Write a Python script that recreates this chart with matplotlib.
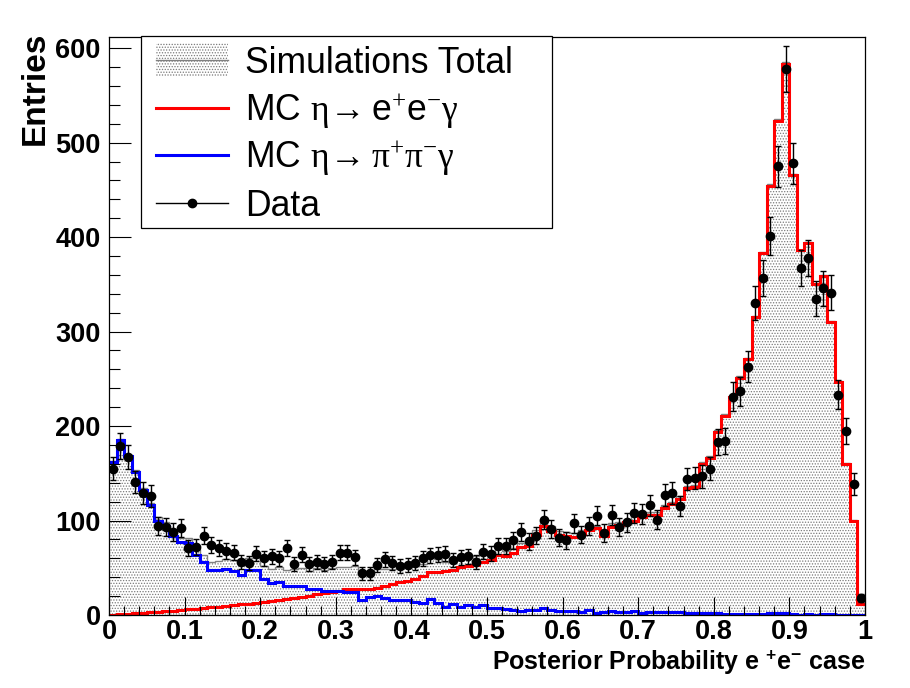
import numpy as np
import matplotlib
matplotlib.use('Agg')
import matplotlib.pyplot as plt
from matplotlib.patches import Rectangle
from matplotlib.lines import Line2D

plt.rcParams['font.family'] = ['Liberation Sans', 'DejaVu Sans']
plt.rcParams['mathtext.fontset'] = 'custom'
plt.rcParams['mathtext.rm'] = 'Liberation Serif'
plt.rcParams['mathtext.it'] = 'Liberation Serif:italic'
plt.rcParams['mathtext.bf'] = 'Liberation Sans:bold'
plt.rcParams['mathtext.sf'] = 'Liberation Sans'
plt.rcParams['hatch.color'] = '#7a7a7a'
plt.rcParams['hatch.linewidth'] = 0.6

# 100 bins of width 0.01 on [0, 1]
edges = np.linspace(0, 1, 101)

data = [155, 179, 167, 141, 129, 126, 94, 93, 88, 92,
        71, 72, 84, 74, 71, 68, 66, 56, 55, 65,
        60, 62, 60, 71, 54, 64, 54, 56, 54, 56,
        66, 66, 61, 44, 44, 53, 59, 55, 52, 53,
        55, 60, 63, 64, 65, 58, 61, 62, 56, 67,
        65, 73, 73, 79, 88, 78, 84, 101, 91, 82,
        79, 97, 85, 94, 105, 87, 106, 93, 98, 108,
        107, 116, 101, 127, 129, 115, 144, 145, 147, 155,
        183, 184, 231, 237, 263, 330, 357, 401, 475, 578,
        478, 367, 378, 335, 346, 341, 233, 195, 139, 18]

mc_ee = [0.5, 1, 1.5, 2, 2.5, 3, 3.5, 4, 4.5, 5,
         6, 6.5, 7, 8, 9, 10, 11, 11.5, 12, 12.5,
         13.5, 14.5, 15.5, 16.5, 17.5, 19, 20, 22, 23, 24.5,
         25.5, 27, 28, 28, 28, 29, 31, 33, 35, 36,
         38, 41, 46, 46, 47, 48, 51, 52, 53, 56,
         58, 64, 62, 66, 72, 73, 85, 94, 89, 85,
         84, 83, 86, 90, 92, 84, 93, 95, 98, 100,
         104, 106, 106, 113, 117, 123, 134, 136, 160, 166,
         194, 211, 231, 251, 271, 315, 383, 454, 523, 583,
         466, 386, 394, 350, 359, 310, 247, 160, 100, 12]

mc_pipi = [162, 185, 168, 151, 132, 116, 100, 94, 84, 77,
           76, 63, 56, 48, 48, 49, 47, 42, 48, 48,
           38, 34, 35, 31, 31, 31, 27, 28, 25, 25,
           25, 24, 24, 16, 19, 20, 18, 16, 16, 16,
           14, 13, 17, 13, 9, 12, 9, 11, 9, 11,
           7, 7, 6, 5, 4, 5, 5, 7, 5, 4,
           4, 4, 3.5, 5, 2, 3, 4.5, 3, 3, 4.5,
           2.5, 3, 3, 3, 3, 3, 2.5, 2, 2, 2,
           2, 1.5, 1.5, 1.5, 1.5, 1.5, 1, 2, 2, 2.5,
           1, 0.5, 1, 0.5, 1, 1, 0.5, 0.5, 0.5, 0.5]

legend_labels = ['Simulations Total',
                 r'MC $\mathrm{\eta}\!\rightarrow\!\!$ e$^{+}$e$^{-}\mathrm{\gamma}$',
                 r'MC $\mathrm{\eta}\!\rightarrow\!\!$ $\mathrm{\pi}^{+}\mathrm{\pi}^{-}\mathrm{\gamma}$',
                 'Data']

data = np.array(data, dtype=float)
mc_ee = np.array(mc_ee, dtype=float)
mc_pipi = np.array(mc_pipi, dtype=float)
total = mc_ee + mc_pipi
centers = 0.5 * (edges[:-1] + edges[1:])

W, H = 910, 688
fig = plt.figure(figsize=(W / 100, H / 100), dpi=100)
ax = fig.add_axes([0.1198, 0.1061, 0.8307, 0.8401])

ax.stairs(total, edges, fill=True, facecolor='white', edgecolor='#7a7a7a',
          hatch='......', linewidth=0)
ax.stairs(total, edges, color='#808080', linewidth=1.0, baseline=None)
ax.stairs(mc_ee, edges, color='#ff0000', linewidth=2.2, baseline=None)
ax.stairs(mc_pipi, edges, color='#0000ff', linewidth=2.2, baseline=None)
ax.errorbar(centers, data, yerr=np.sqrt(data), fmt='o', color='black',
            markersize=6, elinewidth=1, capsize=2, capthick=1, zorder=5)

ax.set_xlim(0, 1)
ax.set_ylim(0, 611.8)
ax.set_xticks(np.arange(0, 1.01, 0.1))
ax.set_xticks(np.arange(0, 1.001, 0.02), minor=True)
ax.set_yticks(np.arange(0, 601, 100))
ax.set_yticks(np.arange(0, 601, 20), minor=True)
ax.set_xticklabels(['0', '0.1', '0.2', '0.3', '0.4', '0.5', '0.6', '0.7', '0.8', '0.9', '1'])
ax.tick_params(axis='both', which='both', direction='in', width=0.8,
               labelsize=19.5)
ax.tick_params(axis='x', which='major', length=13, pad=3)
ax.tick_params(axis='x', which='minor', length=6.5)
ax.tick_params(axis='y', which='major', length=16, pad=6)
ax.tick_params(axis='y', which='minor', length=8)
for lab in ax.get_xticklabels() + ax.get_yticklabels():
    lab.set_fontweight('bold')
for sp in ax.spines.values():
    sp.set_linewidth(0.9)
    sp.set_zorder(6)

ax.set_xlabel(r'Posterior Probability e $^{\mathbf{+}}$e$^{\mathbf{-}}$ case',
              loc='right', fontsize=18, fontweight='bold', labelpad=2)
ax.set_ylabel('Entries', loc='top', fontsize=24, fontweight='bold', labelpad=3)
ax.yaxis.label.set_y(1.01)


# legend drawn by hand in figure pixels (origin top-left), ROOT style
def fx(px):
    return px / W


def fy(py):
    return 1 - py / H


tf = fig.transFigure
fig.patches.append(Rectangle((fx(141), fy(228)), fx(552) - fx(141), fy(36) - fy(228),
                             transform=tf, facecolor='white', edgecolor='black',
                             linewidth=0.9, zorder=10))
row_base = [73, 121, 168, 216]
row_mid = [60, 108, 155, 203]
fig.patches.append(Rectangle((fx(156), fy(76)), fx(228) - fx(156), fy(43) - fy(76),
                             transform=tf, facecolor='white', edgecolor='#7a7a7a',
                             hatch='......', linewidth=0, zorder=11))
fig.lines.append(Line2D([fx(156), fx(228)], [fy(row_mid[0])] * 2, transform=tf,
                        color='#808080', linewidth=1.0, zorder=12))
fig.lines.append(Line2D([fx(156), fx(228)], [fy(row_mid[1])] * 2, transform=tf,
                        color='#ff0000', linewidth=2.2, zorder=12))
fig.lines.append(Line2D([fx(156), fx(228)], [fy(row_mid[2])] * 2, transform=tf,
                        color='#0000ff', linewidth=2.2, zorder=12))
fig.lines.append(Line2D([fx(156), fx(228)], [fy(row_mid[3])] * 2, transform=tf,
                        color='black', linewidth=1.0, zorder=12))
fig.lines.append(Line2D([fx(192)], [fy(row_mid[3])], transform=tf, color='black',
                        marker='o', markersize=6, linestyle='none', zorder=13))
for lab, yb in zip(legend_labels, row_base):
    fig.text(fx(245), fy(yb), lab, fontsize=25.6, ha='left', va='baseline',
             zorder=13)

fig.savefig('out.png', dpi=100)
